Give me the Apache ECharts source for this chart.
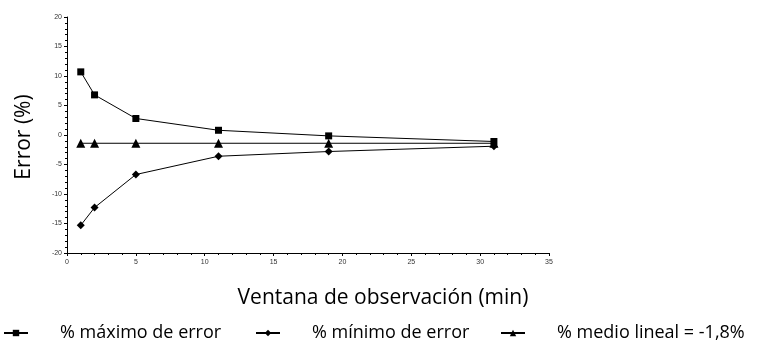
<!DOCTYPE html>
<html><head><meta charset="utf-8">
<script src="https://cdn.jsdelivr.net/npm/echarts@6/dist/echarts.min.js"></script>
<style>html,body{margin:0;padding:0;background:#fff}#c{width:775px;height:345px}</style>
</head><body><div id="c"></div>
<script>
const xValues = [1, 2, 5, 11, 19, 31];
const maxError = [10.7, 6.8, 2.8, 0.8, -0.15, -1.1];
const minError = [-15.3, -12.3, -6.7, -3.6, -2.8, -1.9];
const meanLinear = [-1.4, -1.4, -1.4, -1.4, -1.4, -1.4];
const seriesNames = ['% máximo de error', '% mínimo de error', '% medio lineal = -1,8%'];
const xTitle = 'Ventana de observación (min)';
const yTitle = 'Error (%)';
const symbols = ['rect', 'diamond', 'triangle'];
const symbolSizes = [7, 8, 9];

const pairs = a => xValues.map((x, i) => [x, a[i]]);
const datasets = [maxError, minError, meanLinear];
const legendLefts = [3, 255, 500];

const chart = echarts.init(document.getElementById('c'), null, {renderer: 'canvas'});
chart.setOption({
  animation: false,
  backgroundColor: '#fff',
  grid: {left: 67, right: 226, top: 17, bottom: 92},
  xAxis: {
    type: 'value', min: 0, max: 35, interval: 5,
    axisLine: {onZero: false, lineStyle: {color: '#000', width: 1}},
    axisTick: {length: 3, lineStyle: {color: '#000'}},
    minorTick: {show: true, splitNumber: 5, length: 2, lineStyle: {color: '#000'}},
    splitLine: {show: false},
    axisLabel: {fontSize: 7, color: '#333', fontFamily: 'Liberation Sans', margin: 6}
  },
  yAxis: {
    type: 'value', min: -20, max: 20, interval: 5,
    axisLine: {show: true, onZero: false, lineStyle: {color: '#000', width: 1}},
    axisTick: {show: true, length: 3, lineStyle: {color: '#000'}},
    minorTick: {show: true, splitNumber: 5, length: 2, lineStyle: {color: '#000'}},
    splitLine: {show: false},
    axisLabel: {fontSize: 7, color: '#333', fontFamily: 'Liberation Sans', margin: 5}
  },
  graphic: [
    {type: 'text', x: 383, y: 298, style: {text: xTitle, fontSize: 21, fontFamily: 'Open Sans', fill: '#000', align: 'center', verticalAlign: 'middle'}},
    {type: 'text', x: 24, y: 137, rotation: Math.PI / 2, style: {text: yTitle, fontSize: 21, fontFamily: 'Open Sans', fill: '#000', align: 'center', verticalAlign: 'middle'}}
  ],
  legend: seriesNames.map((n, i) => ({
    top: 324, left: legendLefts[i], itemWidth: 24, itemHeight: 8, padding: 0,
    textStyle: {fontSize: 18, color: '#000', fontFamily: 'Open Sans', padding: [0, 0, 0, 27]},
    data: [n]
  })),
  series: datasets.map((d, i) => ({
    name: seriesNames[i], type: 'line', data: pairs(d),
    symbol: symbols[i], symbolSize: symbolSizes[i],
    itemStyle: {color: '#000'},
    lineStyle: {color: '#000', width: 1}
  }))
});
</script></body></html>
